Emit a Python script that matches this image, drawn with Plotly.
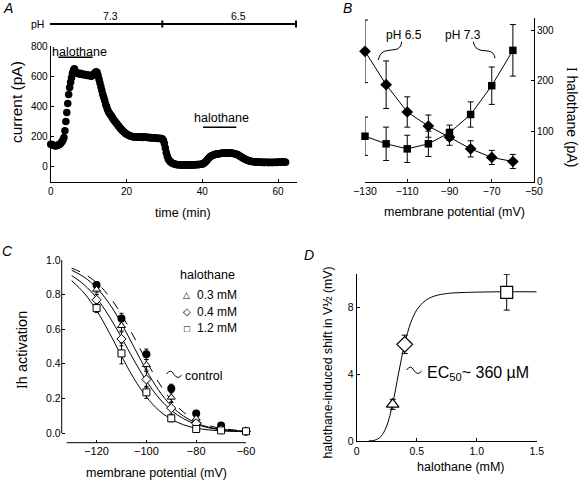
import plotly.graph_objects as go

W, H = 585, 483
FONT = "Liberation Sans, Arial, sans-serif"

# ---------------- Panel A data: time course ----------------
currentA = [150,148,145,143,140,140,141,142,145,148,152,160,168,180,195,
            240,300,360,420,480,525,560,590,620,640,650,635,625,620,
            618,615,620,615,612,615,610,612,608,610,605,608,603,605,600,605,610,618,625,630,625,605,
            580,555,530,505,480,460,440,415,398,380,365,355,345,338,328,318,308,300,292,285,276,268,
            260,252,245,240,233,228,222,218,214,210,208,205,203,201,200,199,
            198,200,197,199,196,198,200,197,195,198,196,199,197,195,196,194,193,195,192,194,193,191,
            190,192,189,190,188,189,188,185,175,
            155,125,95,72,55,45,37,31,27,23,21,19,17,
            16,15,14,14,13,13,14,12,13,14,12,13,15,13,14,12,14,15,13,14,15,16,15,17,16,18,18,
            20,22,26,32,38,45,53,60,66,71,75,78,80,82,84,85,86,88,87,89,90,91,90,92,93,92,94,93,92,
            93,91,92,90,89,88,86,84,82,79,75,71,67,63,59,55,52,49,46,44,42,40,38,37,
            36,35,34,34,33,33,32,33,31,32,31,30,31,30,32,31,30,29,30,31,30,29,30,31,32,30,31,32,33,
            31,32,33,32,34,33,32]
SAMPLE_MIN = 0.25
timeA = [i * SAMPLE_MIN for i in range(len(currentA))]
halothane_bars_A = [(2.0, 11.1, 725), (40.2, 49.0, 262)]
pH_labels_A = ["7.3", "6.5"]

# ---------------- Panel B data ----------------
vB = [-130, -120, -110, -100, -90, -80, -70, -60]
pH65 = [258, 192, 138, 110, 88, 65, 48, 40]
pH65_err = [62, 47, 30, 22, 16, 16, 14, 14]
pH73 = [90, 75, 65, 75, 97, 133, 190, 260]
pH73_err = [38, 33, 27, 25, 15, 25, 37, 51]

# ---------------- Panel C data ----------------
vC = [-120, -110, -100, -90, -80, -70, -60]
ctrl = [0.855, 0.662, 0.455, 0.257, 0.113, 0.043, 0.009]
ctrl_err = [0.02, 0.03, 0.03, 0.025, 0.015, 0.01, 0.005]
h03 = [0.83, 0.62, 0.394, 0.206, 0.084, 0.03, 0.01]
h03_err = [0.02, 0.03, 0.03, 0.03, 0.015, 0.01, 0.005]
h04 = [0.77, 0.544, 0.31, 0.144, 0.056, 0.02, 0.01]
h04_err = [0.03, 0.04, 0.045, 0.035, 0.015, 0.01, 0.005]
h12 = [0.722, 0.46, 0.235, 0.085, 0.023, 0.015, 0.01]
h12_err = [0.025, 0.06, 0.035, 0.02, 0.01, 0.005, 0.005]
# fitted curves
vFit = [-130, -125, -120, -115, -110, -105, -100, -95, -90, -85, -80, -75, -70, -65, -60]
fit_ctrl = [0.953, 0.920, 0.869, 0.791, 0.685, 0.555, 0.417, 0.291, 0.190, 0.119, 0.072, 0.043, 0.027, 0.018, 0.013]
fit_h03 = [0.941, 0.901, 0.840, 0.750, 0.633, 0.497, 0.362, 0.246, 0.157, 0.097, 0.058, 0.034, 0.021, 0.014, 0.010]
fit_h04 = [0.910, 0.857, 0.780, 0.676, 0.552, 0.421, 0.301, 0.203, 0.131, 0.082, 0.050, 0.030, 0.019, 0.013, 0.010]
fit_h12 = [0.881, 0.809, 0.709, 0.583, 0.445, 0.315, 0.209, 0.131, 0.080, 0.047, 0.028, 0.018, 0.012, 0.009, 0.008]

# ---------------- Panel D data ----------------
concD = [0.3, 0.4, 1.25]
shiftD = [2.2, 5.8, 8.92]
shiftD_err = [0.3, 0.55, 1.07]
symD = ["triangle-up", "diamond", "square"]
fitD_x = [0.1, 0.15, 0.2, 0.25, 0.3, 0.35, 0.4, 0.45, 0.5, 0.55, 0.6, 0.65, 0.7, 0.8, 0.9, 1.0, 1.2, 1.5]
fitD_y = [0.004, 0.046, 0.256, 0.90, 2.25, 4.10, 5.84, 7.09, 7.86, 8.29, 8.55, 8.70, 8.79, 8.88, 8.91, 8.93, 8.95, 8.95]


def px(x):
    return x / W


def py(y):
    return 1 - y / H


fig = go.Figure()

# Panel A
fig.add_trace(go.Scatter(x=timeA, y=currentA, mode="markers",
                         marker=dict(color="black", size=7.5, symbol="circle"),
                         xaxis="x", yaxis="y", cliponaxis=False))

# Panel B
eb = lambda arr: dict(type="data", array=arr, visible=True, color="black", thickness=1, width=3)
fig.add_trace(go.Scatter(x=vB, y=pH65, mode="lines+markers", error_y=eb(pH65_err),
                         line=dict(color="black", width=1),
                         marker=dict(symbol="diamond", size=9, color="black"),
                         xaxis="x2", yaxis="y2", cliponaxis=False))
fig.add_trace(go.Scatter(x=vB, y=pH73, mode="lines+markers", error_y=eb(pH73_err),
                         line=dict(color="black", width=1),
                         marker=dict(symbol="square", size=7.5, color="black"),
                         xaxis="x2", yaxis="y2", cliponaxis=False))

# Panel C curves
fig.add_trace(go.Scatter(x=vFit, y=fit_ctrl, mode="lines", line=dict(color="black", width=1, dash="dash", shape="spline"),
                         xaxis="x3", yaxis="y3"))
for f in (fit_h03, fit_h04, fit_h12):
    fig.add_trace(go.Scatter(x=vFit, y=f, mode="lines", line=dict(color="black", width=1, shape="spline"),
                             xaxis="x3", yaxis="y3"))
ebc = lambda arr: dict(type="data", array=arr, visible=True, color="black", thickness=1, width=2)
fig.add_trace(go.Scatter(x=vC, y=ctrl, mode="markers", error_y=ebc(ctrl_err),
                         marker=dict(symbol="circle", size=8, color="black"),
                         xaxis="x3", yaxis="y3", cliponaxis=False))
for data, err, sym in ((h03, h03_err, "triangle-up"), (h04, h04_err, "diamond"), (h12, h12_err, "square")):
    fig.add_trace(go.Scatter(x=vC, y=data, mode="markers", error_y=ebc(err),
                             marker=dict(symbol=sym, size=7, color="white", line=dict(color="black", width=1)),
                             xaxis="x3", yaxis="y3", cliponaxis=False))

# Panel D
fig.add_trace(go.Scatter(x=fitD_x, y=fitD_y, mode="lines", line=dict(color="black", width=1, shape="spline"),
                         xaxis="x4", yaxis="y4", cliponaxis=False))
for i in range(3):
    fig.add_trace(go.Scatter(x=[concD[i]], y=[shiftD[i]], mode="markers",
                             error_y=dict(type="data", array=[shiftD_err[i]], color="black", thickness=1, width=3),
                             marker=dict(symbol=symD[i], size=12 if i else 11,
                                         color="white", line=dict(color="black", width=1.2)),
                             xaxis="x4", yaxis="y4", cliponaxis=False))

tickfont = lambda s: dict(family=FONT, size=s, color="black")
axcommon = dict(showgrid=False, zeroline=False, linecolor="black", linewidth=1, ticks="inside",
                ticklen=3, tickcolor="black", tickwidth=1, mirror=False, automargin=False)

layout = dict(
    width=W, height=H, margin=dict(l=0, r=0, t=0, b=0, autoexpand=False),
    paper_bgcolor="white", plot_bgcolor="rgba(0,0,0,0)", showlegend=False,
    font=dict(family=FONT, color="black"),
    xaxis=dict(domain=[px(50.7), px(297)], range=[0, 65], tickvals=[0, 20, 40, 60], showline=True,
               tickfont=tickfont(10), anchor="y", **axcommon),
    yaxis=dict(domain=[py(182.1), py(46)], range=[-100, 800], tickvals=[0, 200, 400, 600, 800], showline=True,
               tickfont=tickfont(10), anchor="x", **axcommon),
    xaxis2=dict(domain=[px(365), px(534)], range=[-130, -50], tickvals=[-130, -110, -90, -70, -50], showline=True,
                tickfont=tickfont(10.5), anchor="y2", **axcommon),
    yaxis2=dict(domain=[py(181.7), py(18)], range=[0, 324], tickvals=[0, 100, 200, 300], showline=True,
                side="right", tickfont=tickfont(10), anchor="x2", **axcommon),
    xaxis3=dict(domain=[px(61.7), px(246)], range=[-134, -60], tickvals=[-120, -100, -80, -60], showline=False,
                tickfont=tickfont(11), anchor="y3", **axcommon),
    yaxis3=dict(domain=[py(442.7), py(260)], range=[-0.056, 1.0], tickvals=[0, 0.2, 0.4, 0.6, 0.8, 1.0],
                tickformat=".1f", showline=False, tickfont=tickfont(10.5), anchor="x3", **axcommon),
    xaxis4=dict(domain=[px(356.7), px(536.7)], range=[0, 1.5], tickvals=[0, 0.5, 1.0, 1.5],
                ticktext=["0", "0.5", "1.0", "1.5"], showline=True, tickfont=tickfont(10.5), anchor="y4", **axcommon),
    yaxis4=dict(domain=[py(441), py(274.3)], range=[0, 10], tickvals=[0, 4, 8], showline=True,
                tickfont=tickfont(10.5), anchor="x4", **axcommon),
)
fig.update_layout(**layout)

shapes = []
ln = dict(color="black", width=1)
# Panel C axis lines (detached)
shapes.append(dict(type="line", xref="x3 domain", x0=0, x1=0, yref="y3", y0=0, y1=1.0, line=ln))
shapes.append(dict(type="line", xref="x3", x0=-132, x1=-60, yref="y3 domain", y0=0, y1=0, line=ln))
# Panel A halothane bars
for t0, t1, yv in halothane_bars_A:
    shapes.append(dict(type="line", xref="x", yref="y", x0=t0, x1=t1, y0=yv, y1=yv, line=dict(color="black", width=1.5)))
# pH bar
shapes.append(dict(type="line", xref="paper", yref="paper", x0=px(50), x1=px(296), y0=py(24), y1=py(24),
                   line=dict(color="black", width=2)))
for xx in (162.3, 296):
    shapes.append(dict(type="line", xref="paper", yref="paper", x0=px(xx), x1=px(xx), y0=py(20.5), y1=py(27.5),
                       line=dict(color="black", width=2)))


def path(cmds):
    out = []
    for c in cmds:
        if isinstance(c, str):
            out.append(c)
        else:
            out.append(f"{px(c[0]):.5f},{py(c[1]):.5f}")
    return " ".join(out)


braces = [
    ["M", (378.3, 60), "Q", (380, 51), (388, 50.5), "L", (395, 49.5), "Q", (401, 49), (401.7, 41.7)],
    ["M", (473.3, 41.7), "Q", (474.5, 49.5), (482, 50.5), "L", (488, 51), "Q", (494.5, 52), (495, 58.3)],
    ["M", (166.7, 374), "Q", (170.5, 368), (174, 374.5), "Q", (177.5, 380), (181.7, 375)],
    ["M", (406.7, 370), "Q", (410.5, 364), (414, 370.5), "Q", (417.5, 376), (421.7, 371)],
]
for b in braces:
    shapes.append(dict(type="path", xref="paper", yref="paper", path=path(b), line=dict(color="black", width=1)))
fig.update_layout(shapes=shapes)

anns = []


def ann(x, y, text, size, xanchor="center", angle=0, italic=False):
    anns.append(dict(xref="paper", yref="paper", x=px(x), y=py(y), text=text, showarrow=False,
                     xanchor=xanchor, yanchor="middle", textangle=angle,
                     font=dict(family=FONT, size=size, color="black",
                               style="italic" if italic else "normal")))


SERIF = "font-family:'Liberation Serif', 'Times New Roman', serif"
# panel letters
ann(8, 8, "A", 14, italic=True)
ann(347, 8, "B", 14, italic=True)
ann(7, 251, "C", 14, italic=True)
ann(309, 255, "D", 14, italic=True)
# panel A texts
ann(46, 24, "pH", 10.5, xanchor="right")
ann(110, 16, pH_labels_A[0], 10.5)
ann(238, 16, pH_labels_A[1], 10.5)
ann(79, 52, "halothane", 12.5)
ann(221, 118.5, "halothane", 12.5)
ann(17, 102, "current (pA)", 15.5, angle=-90)
ann(182.5, 213, "time (min)", 12.5)
# panel B texts
ann(404, 35, "pH 6.5", 12)
ann(463, 35, "pH 7.3", 12)
ann(454, 212, "membrane potential (mV)", 12.5)
ann(572, 117, f"<span style=\"{SERIF}\">I</span> halothane (pA)", 14, angle=90)
# panel C texts
ann(207.5, 275, "halothane", 12.5)
ann(187, 295, "△", 9)
ann(187, 311.5, "◇", 10)
ann(187, 328, "□", 10)
ann(195, 295, "0.3 mM", 12, xanchor="left")
ann(195, 311.5, "0.4 mM", 12, xanchor="left")
ann(195, 328, "1.2 mM", 12, xanchor="left")
ann(183, 376, "control", 12.5, xanchor="left")
ann(22, 350, f"<span style=\"{SERIF}\">I</span>h activation", 14.5, angle=-90)
ann(156, 473, "membrane potential (mV)", 12.5)
# panel D texts
ann(425, 373, "EC<sub>50</sub>~ 360 µM", 16, xanchor="left")
ann(461, 467, "halothane (mM)", 12.5)
ann(327, 362.5, "halothane-induced shift in V½ (mV)", 12.3, angle=-90)
fig.update_layout(annotations=anns)

fig.write_html("out.html", config={"displayModeBar": False},
               post_script="document.body.style.margin='0';document.body.style.overflow='hidden';")
